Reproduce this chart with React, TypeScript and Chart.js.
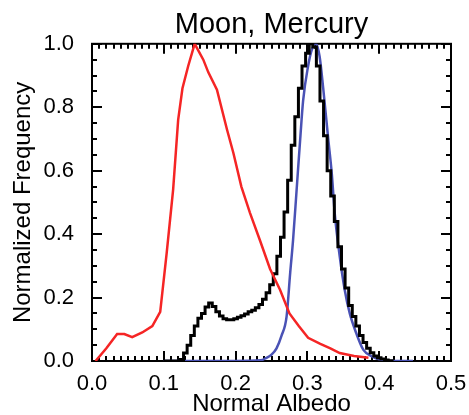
import React, { useEffect, useRef } from "react";
import { Chart, registerables } from "chart.js";

Chart.register(...registerables);

const TITLE = "Moon, Mercury";
const X_TITLE = "Normal Albedo";
const Y_TITLE = "Normalized Frequency";

// Moon (red)
const moonX = [0.005, 0.02, 0.035, 0.045, 0.056, 0.07, 0.084, 0.095, 0.104, 0.113, 0.12, 0.126, 0.134, 0.143, 0.155, 0.162, 0.174, 0.188, 0.197, 0.208, 0.22, 0.234, 0.248, 0.262, 0.275, 0.288, 0.301, 0.318, 0.332, 0.345, 0.365, 0.385];
const moonY = [0.0, 0.04, 0.085, 0.085, 0.075, 0.09, 0.11, 0.155, 0.34, 0.54, 0.76, 0.86, 0.93, 1.0, 0.95, 0.91, 0.855, 0.73, 0.655, 0.55, 0.467, 0.38, 0.29, 0.224, 0.15, 0.11, 0.073, 0.054, 0.04, 0.025, 0.016, 0.01];

// Mercury histogram (black), bin centers
const mercuryX = [0.100, 0.105, 0.110, 0.115, 0.120, 0.125, 0.130, 0.135, 0.140, 0.145, 0.150, 0.155, 0.160, 0.165, 0.170, 0.175, 0.180, 0.185, 0.190, 0.195, 0.200, 0.205, 0.210, 0.215, 0.220, 0.225, 0.230, 0.235, 0.240, 0.245, 0.250, 0.255, 0.260, 0.265, 0.270, 0.275, 0.280, 0.285, 0.290, 0.295, 0.300, 0.305, 0.310, 0.315, 0.320, 0.325, 0.330, 0.335, 0.340, 0.345, 0.350, 0.355, 0.360, 0.365, 0.370, 0.375, 0.380, 0.385, 0.390, 0.395, 0.400, 0.405, 0.410, 0.415, 0.420];
const mercuryY = [0, 0, 0, 0, 0, 0.005, 0.025, 0.05, 0.08, 0.11, 0.135, 0.15, 0.17, 0.183, 0.172, 0.155, 0.142, 0.133, 0.13, 0.13, 0.133, 0.138, 0.143, 0.148, 0.155, 0.16, 0.168, 0.178, 0.195, 0.215, 0.24, 0.275, 0.33, 0.39, 0.47, 0.57, 0.68, 0.77, 0.86, 0.93, 0.97, 1.0, 0.99, 0.93, 0.82, 0.71, 0.6, 0.52, 0.44, 0.36, 0.29, 0.23, 0.175, 0.14, 0.11, 0.08, 0.058, 0.04, 0.026, 0.016, 0.01, 0.006, 0.003, 0.001, 0];

// Model (blue)
const modelX = [0.1, 0.2, 0.235, 0.243, 0.25, 0.257, 0.264, 0.271, 0.276, 0.28, 0.285, 0.29, 0.294, 0.301, 0.306, 0.312, 0.317, 0.322, 0.329, 0.334, 0.338, 0.345, 0.352, 0.359, 0.368, 0.378, 0.391, 0.405, 0.42, 0.447];
const modelY = [0, 0, 0.002, 0.01, 0.02, 0.04, 0.08, 0.14, 0.277, 0.38, 0.54, 0.70, 0.82, 0.93, 0.98, 1.0, 0.96, 0.86, 0.70, 0.59, 0.467, 0.33, 0.224, 0.15, 0.088, 0.035, 0.013, 0.003, 0, 0];

const xTicks = [0, 0.1, 0.2, 0.3, 0.4, 0.5];
const yTicks = [0, 0.2, 0.4, 0.6, 0.8, 1.0];

const FONT = "'Liberation Sans', Arial, Helvetica, sans-serif";

const pts = (xs: number[], ys: number[]) => xs.map((x, i) => ({ x, y: ys[i] }));

const framePlugin = {
  id: "idlFrame",
  beforeDatasetsDraw(chart: any) {
    const { ctx, chartArea: a, scales } = chart;
    const xs = scales.x;
    const ys = scales.y;
    ctx.save();
    ctx.strokeStyle = "#000";
    ctx.lineWidth = 2;
    ctx.strokeRect(a.left, a.top, a.right - a.left, a.bottom - a.top);
    ctx.beginPath();
    for (let i = 0; i <= 50; i++) {
      const v = i * 0.01;
      const px = Math.round(xs.getPixelForValue(v));
      const len = i % 10 === 0 ? 10 : 5;
      ctx.moveTo(px, a.bottom);
      ctx.lineTo(px, a.bottom - len);
      ctx.moveTo(px, a.top);
      ctx.lineTo(px, a.top + len);
    }
    for (let i = 0; i <= 20; i++) {
      const v = i * 0.05;
      const py = Math.round(ys.getPixelForValue(v));
      const len = i % 4 === 0 ? 10 : 5;
      ctx.moveTo(a.left, py);
      ctx.lineTo(a.left + len, py);
      ctx.moveTo(a.right, py);
      ctx.lineTo(a.right - len, py);
    }
    ctx.stroke();
    ctx.restore();
  },
};

export default function App() {
  const ref = useRef<HTMLCanvasElement>(null);
  useEffect(() => {
    if (!ref.current) return;
    const chart = new Chart(ref.current, {
      type: "line",
      data: {
        datasets: [
          {
            label: "Moon",
            data: pts(moonX, moonY),
            borderColor: "#f52525",
            borderWidth: 2.5,
            pointRadius: 0,
            tension: 0,
            fill: false,
          },
          {
            label: "Mercury",
            data: pts(mercuryX, mercuryY),
            borderColor: "#000000",
            borderWidth: 3,
            pointRadius: 0,
            stepped: "middle",
            fill: false,
          },
          {
            label: "Model",
            data: pts(modelX, modelY),
            borderColor: "#4a52b5",
            borderWidth: 2.5,
            pointRadius: 0,
            cubicInterpolationMode: "monotone",
            fill: false,
          },
        ],
      },
      options: {
        animation: false,
        responsive: false,
        maintainAspectRatio: false,
        layout: { padding: { left: 0, right: 18, top: 0, bottom: 0 } },
        plugins: {
          legend: { display: false },
          tooltip: { enabled: false },
          title: {
            display: true,
            text: TITLE,
            color: "#000",
            fullSize: false,
            font: { family: FONT, size: 29, weight: "normal" },
            padding: { top: 8, bottom: 1 },
          },
        },
        scales: {
          x: {
            type: "linear",
            min: 0,
            max: 0.5,
            afterFit: (s: any) => {
              s.height = 54;
            },
            afterBuildTicks: (s: any) => {
              s.ticks = xTicks.map((v) => ({ value: v }));
            },
            grid: { display: false },
            border: { display: false },
            ticks: {
              color: "#000",
              padding: 2,
              maxRotation: 0,
              font: { family: FONT, size: 22 },
              callback: (v: any) => Number(v).toFixed(1),
            },
            title: {
              display: true,
              text: X_TITLE,
              color: "#000",
              font: { family: FONT, size: 24 },
              padding: { top: 0, bottom: -4 },
            },
          },
          y: {
            type: "linear",
            min: 0,
            max: 1,
            afterFit: (s: any) => {
              s.width = 92;
            },
            afterBuildTicks: (s: any) => {
              s.ticks = yTicks.map((v) => ({ value: v }));
            },
            grid: { display: false },
            border: { display: false },
            ticks: {
              color: "#000",
              padding: 10,
              font: { family: FONT, size: 22 },
              callback: (v: any) => Number(v).toFixed(1),
            },
            title: {
              display: true,
              text: Y_TITLE,
              color: "#000",
              font: { family: FONT, size: 24 },
              padding: { top: 9, bottom: 0 },
            },
          },
        },
      },
      plugins: [framePlugin],
    });
    return () => chart.destroy();
  }, []);
  return (
    <div style={{ position: "fixed", left: 0, top: 0, width: 469, height: 415, background: "#fff" }}>
      <canvas ref={ref} width={469} height={415} style={{ display: "block" }} />
    </div>
  );
}
